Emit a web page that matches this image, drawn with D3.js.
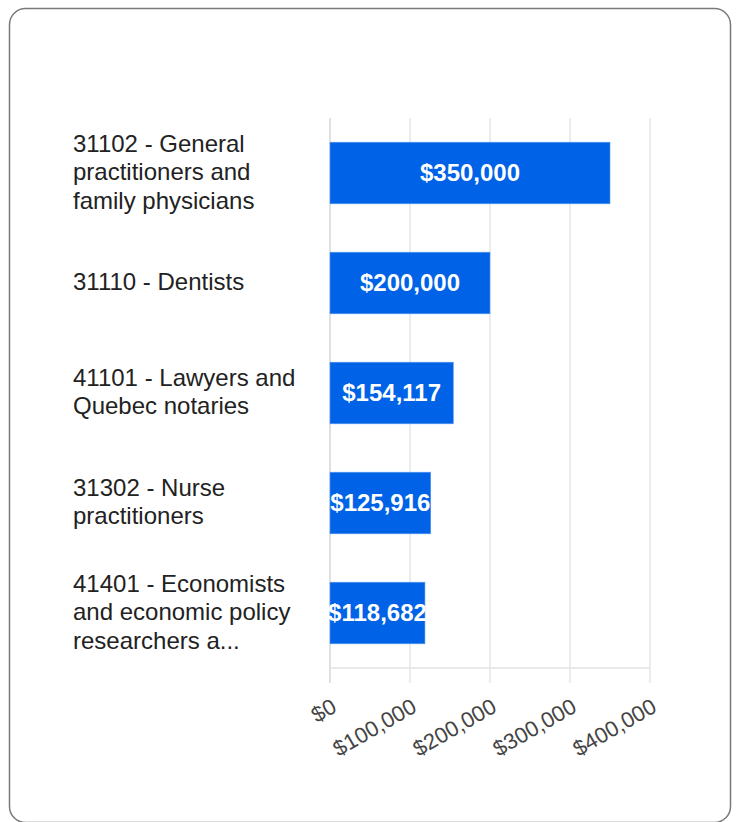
<!DOCTYPE html>
<html>
<head>
<meta charset="utf-8">
<script src="https://cdn.jsdelivr.net/npm/d3@7"></script>
<style>
  body { margin: 0; background: #fff; }
</style>
</head>
<body>
<div id="chart"></div>
<script>
const categories = [
    "31102 - General practitioners and family physicians",
    "31110 - Dentists",
    "41101 - Lawyers and Quebec notaries",
    "31302 - Nurse practitioners",
    "41401 - Economists and economic policy researchers a..."
];
const salaries = [350000, 200000, 154117, 125916, 118682];
const tickValues = [0, 100000, 200000, 300000, 400000];

const width = 736, height = 822;
const plot = { left: 330, right: 650, top: 118, bottom: 668 };

const svg = d3.select("#chart").append("svg")
    .attr("width", width)
    .attr("height", height)
    .style("font-family", "Arial, 'Liberation Sans', sans-serif");

// card frame
svg.append("rect")
    .attr("x", 9.5).attr("y", 8.5)
    .attr("width", 721).attr("height", 814)
    .attr("rx", 16)
    .attr("fill", "#fff")
    .attr("stroke", "#7a7a7a")
    .attr("stroke-width", 1.5);

const x = d3.scaleLinear().domain([0, 400000]).range([plot.left, plot.right]);
const y = d3.scaleBand().domain(categories).range([plot.top, plot.bottom]).paddingInner(0.44).paddingOuter(0.22);

const money = d3.format("$,");

// gridlines, extended down as tick marks
svg.append("g").selectAll("line")
    .data(tickValues)
    .join("line")
    .attr("x1", d => x(d)).attr("x2", d => x(d))
    .attr("y1", plot.top).attr("y2", plot.bottom + 15)
    .attr("stroke", d => d === 0 ? "#cfcfcf" : "#e2e2e2")
    .attr("stroke-width", 1.3);

svg.append("line")
    .attr("x1", plot.left).attr("x2", plot.right)
    .attr("y1", plot.bottom).attr("y2", plot.bottom)
    .attr("stroke", "#e2e2e2")
    .attr("stroke-width", 1.3);

// bars
svg.append("g").selectAll("rect")
    .data(salaries)
    .join("rect")
    .attr("x", x(0))
    .attr("y", (d, i) => y(categories[i]))
    .attr("width", d => x(d) - x(0))
    .attr("height", y.bandwidth())
    .attr("fill", "#0062e6")
    .attr("stroke", "#5b9cf0")
    .attr("stroke-width", 0.6);

// value labels
svg.append("g").selectAll("text")
    .data(salaries)
    .join("text")
    .attr("x", d => (x(0) + x(d)) / 2)
    .attr("y", (d, i) => y(categories[i]) + y.bandwidth() / 2)
    .attr("dy", "0.35em")
    .attr("text-anchor", "middle")
    .attr("font-size", "24px")
    .attr("font-weight", "bold")
    .attr("fill", "#fff")
    .text(d => money(d));

// category labels, wrapped
const lineHeight = 28.5;
const maxWidth = 232;
const labels = svg.append("g");
categories.forEach(name => {
    const t = labels.append("text")
        .attr("font-size", "24px")
        .attr("fill", "#222");
    const words = name.split(" ");
    const lines = [];
    let line = [];
    const probe = t.append("tspan");
    words.forEach(w => {
        line.push(w);
        probe.text(line.join(" "));
        if (probe.node().getComputedTextLength() > maxWidth && line.length > 1) {
            line.pop();
            lines.push(line.join(" "));
            line = [w];
        }
    });
    lines.push(line.join(" "));
    probe.remove();
    const cy = y(name) + y.bandwidth() / 2;
    const startY = cy - (lines.length - 1) * lineHeight / 2;
    lines.forEach((l, i) => {
        t.append("tspan")
            .attr("x", 73)
            .attr("y", startY + i * lineHeight)
            .attr("dy", "0.3em")
            .text(l);
    });
});

// rotated tick labels
svg.append("g").selectAll("text")
    .data(tickValues)
    .join("text")
    .attr("transform", d => `translate(${x(d) + 8},${plot.bottom + 43}) rotate(-30)`)
    .attr("text-anchor", "end")
    .attr("font-size", "22px")
    .attr("fill", "#444")
    .text(d => money(d));
</script>
</body>
</html>
